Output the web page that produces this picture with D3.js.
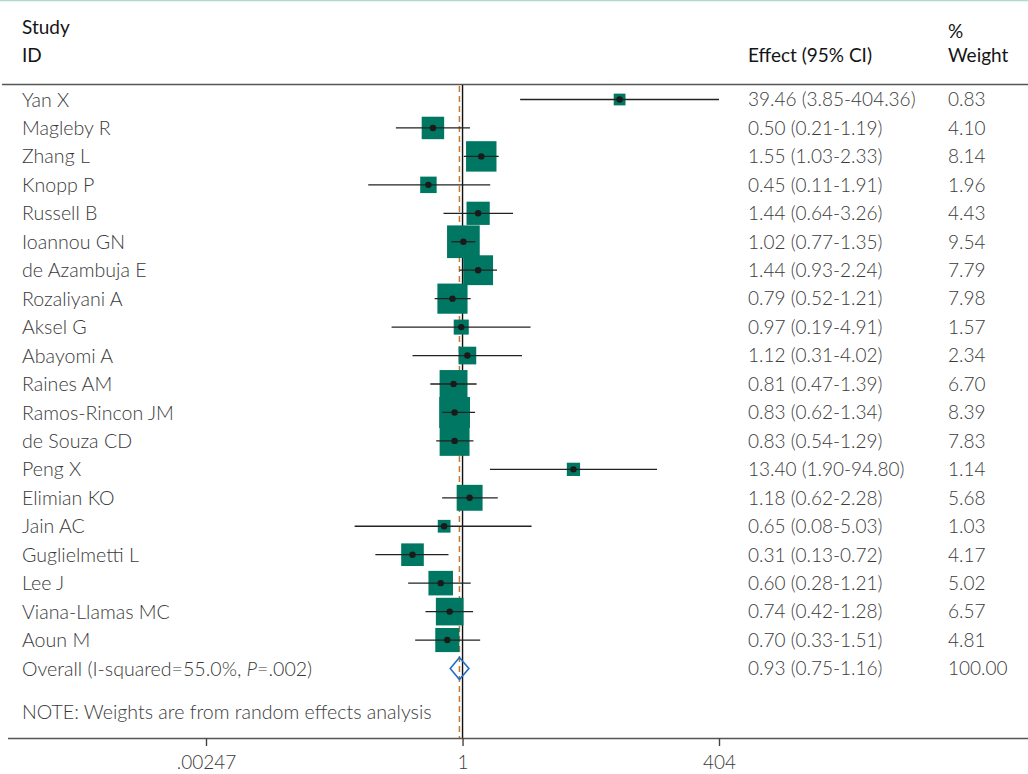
<!DOCTYPE html>
<html>
<head>
<meta charset="utf-8">
<script src="https://cdn.jsdelivr.net/npm/d3@7/dist/d3.min.js"></script>
<style>
  html, body { margin: 0; padding: 0; background: #fff; }
  svg { display: block; }
  text { font-family: Lato, "Noto Sans", sans-serif; }
</style>
</head>
<body>
<svg id="chart" width="1028" height="774"></svg>
<script>
const studies = ["Yan X", "Magleby R", "Zhang L", "Knopp P", "Russell B", "Ioannou GN",
  "de Azambuja E", "Rozaliyani A", "Aksel G", "Abayomi A", "Raines AM", "Ramos-Rincon JM",
  "de Souza CD", "Peng X", "Elimian KO", "Jain AC", "Guglielmetti L", "Lee J",
  "Viana-Llamas MC", "Aoun M"];
const effects = [39.46, 0.50, 1.55, 0.45, 1.44, 1.02, 1.44, 0.79, 0.97, 1.12, 0.81, 0.83,
  0.83, 13.40, 1.18, 0.65, 0.31, 0.60, 0.74, 0.70];
const lowerCI = [3.85, 0.21, 1.03, 0.11, 0.64, 0.77, 0.93, 0.52, 0.19, 0.31, 0.47, 0.62,
  0.54, 1.90, 0.62, 0.08, 0.13, 0.28, 0.42, 0.33];
const upperCI = [404.36, 1.19, 2.33, 1.91, 3.26, 1.35, 2.24, 1.21, 4.91, 4.02, 1.39, 1.34,
  1.29, 94.80, 2.28, 5.03, 0.72, 1.21, 1.28, 1.51];
const weights = [0.83, 4.10, 8.14, 1.96, 4.43, 9.54, 7.79, 7.98, 1.57, 2.34, 6.70, 8.39,
  7.83, 1.14, 5.68, 1.03, 4.17, 5.02, 6.57, 4.81];
const overall = { label: "Overall (I-squared=55.0%, ", p: "P", rest: "=.002)", effect: 0.93, lower: 0.75, upper: 1.16, weight: "100.00" };
const tickValues = [0.00247, 1, 404];
const tickLabels = [".00247", "1", "404"];
const noteText = "NOTE: Weights are from random effects analysis";

const svg = d3.select("#chart");
const W = 1028, H = 774;

const x = d3.scaleLog().domain([0.00247, 404]).range([206, 719]);
const rowIdx = d3.range(studies.length + 1);
const y = d3.scalePoint().domain(rowIdx).range([99.5, 668.5]);
const boxSize = d3.scaleSqrt().domain([0, 10]).range([3, 33.4]);

const bodyColor = "#3a3a3a";
const headColor = "#151515";
const fs = 19;
const fsLab = 19.6;

// top thin line
svg.append("line").attr("x1", 0).attr("x2", W).attr("y1", 0.5).attr("y2", 0.5)
  .attr("stroke", "#aadcd2").attr("stroke-width", 1.5);

// header
const head = svg.append("g").attr("fill", headColor).attr("font-size", fs).attr("font-weight", 400);
head.append("text").attr("x", 22).attr("y", 34).text("Study");
head.append("text").attr("x", 22).attr("y", 62).text("ID");
head.append("text").attr("x", 748).attr("y", 62).text("Effect (95% CI)");
head.append("text").attr("x", 948).attr("y", 38).text("%");
head.append("text").attr("x", 948).attr("y", 62).text("Weight");

// header rule
svg.append("line").attr("x1", 2).attr("x2", W).attr("y1", 84.5).attr("y2", 84.5)
  .attr("stroke", "#555").attr("stroke-width", 1.6);

const axisY = 738;

// reference lines
svg.append("line").attr("x1", x(1)).attr("x2", x(1)).attr("y1", 85).attr("y2", axisY)
  .attr("stroke", "#111").attr("stroke-width", 1.4);
svg.append("line").attr("x1", x(overall.effect)).attr("x2", x(overall.effect)).attr("y1", 86).attr("y2", axisY)
  .attr("stroke", "#c4782f").attr("stroke-width", 1.5).attr("stroke-dasharray", "6,4");

const rows = studies.map((s, i) => ({ s, e: effects[i], lo: lowerCI[i], hi: upperCI[i], w: weights[i], i }));

// boxes
svg.append("g").selectAll("rect").data(rows).join("rect")
  .attr("x", d => x(d.e) - boxSize(d.w) / 2)
  .attr("y", d => y(d.i) - boxSize(d.w) / 2)
  .attr("width", d => boxSize(d.w))
  .attr("height", d => boxSize(d.w))
  .attr("fill", "#007762");

// CI lines
svg.append("g").selectAll("line").data(rows).join("line")
  .attr("x1", d => x(d.lo)).attr("x2", d => x(d.hi))
  .attr("y1", d => y(d.i)).attr("y2", d => y(d.i))
  .attr("stroke", "#222").attr("stroke-width", 1.3);

// points
svg.append("g").selectAll("circle").data(rows).join("circle")
  .attr("cx", d => x(d.e)).attr("cy", d => y(d.i)).attr("r", 3.2)
  .attr("fill", "#1a1a1a");

// overall diamond
const oy = y(studies.length);
svg.append("path")
  .attr("d", `M${x(overall.lower)},${oy} L${x(overall.effect)},${oy - 11} L${x(overall.upper)},${oy} L${x(overall.effect)},${oy + 11} Z`)
  .attr("fill", "none").attr("stroke", "#1f6fc5").attr("stroke-width", 1.6);

// text columns
const fmt = d3.format(".2f");
const txt = svg.append("g").attr("fill", bodyColor).attr("font-size", fs).attr("font-weight", 300);
txt.selectAll("text.lab").data(rows).join("text").attr("class", "lab")
  .attr("x", 22).attr("y", d => y(d.i)).attr("dy", "0.36em").attr("font-size", fsLab).text(d => d.s);
txt.selectAll("text.eff").data(rows).join("text").attr("class", "eff")
  .attr("x", 748).attr("y", d => y(d.i)).attr("dy", "0.36em")
  .text(d => `${fmt(d.e)} (${fmt(d.lo)}-${fmt(d.hi)})`);
txt.selectAll("text.wt").data(rows).join("text").attr("class", "wt")
  .attr("x", 948).attr("y", d => y(d.i)).attr("dy", "0.36em")
  .text(d => fmt(d.w));

const ot = txt.append("text").attr("x", 22).attr("y", oy).attr("dy", "0.36em").attr("font-size", fsLab);
ot.append("tspan").text(overall.label);
ot.append("tspan").attr("font-style", "italic").text(overall.p);
ot.append("tspan").text(overall.rest);
txt.append("text").attr("x", 748).attr("y", oy).attr("dy", "0.36em")
  .text(`${fmt(overall.effect)} (${fmt(overall.lower)}-${fmt(overall.upper)})`);
txt.append("text").attr("x", 948).attr("y", oy).attr("dy", "0.36em").text(overall.weight);

txt.append("text").attr("x", 22).attr("y", 712).attr("dy", "0.36em").attr("font-size", fsLab).text(noteText);

// axis
svg.append("line").attr("x1", 8).attr("x2", W).attr("y1", axisY + 0.5).attr("y2", axisY + 0.5)
  .attr("stroke", "#555").attr("stroke-width", 1.6);
const axis = d3.axisBottom(x).tickValues(tickValues)
  .tickFormat((d, i) => tickLabels[i]).tickSize(8).tickSizeOuter(0).tickPadding(10);
const ag = svg.append("g").attr("transform", `translate(0,${axisY})`).call(axis);
ag.select(".domain").remove();
ag.selectAll(".tick line").attr("stroke", "#444").attr("stroke-width", 1.4);
ag.selectAll(".tick text").attr("font-size", fs).attr("font-weight", 300)
  .attr("fill", bodyColor).attr("font-family", "Lato, 'Noto Sans', sans-serif");
</script>
</body>
</html>
